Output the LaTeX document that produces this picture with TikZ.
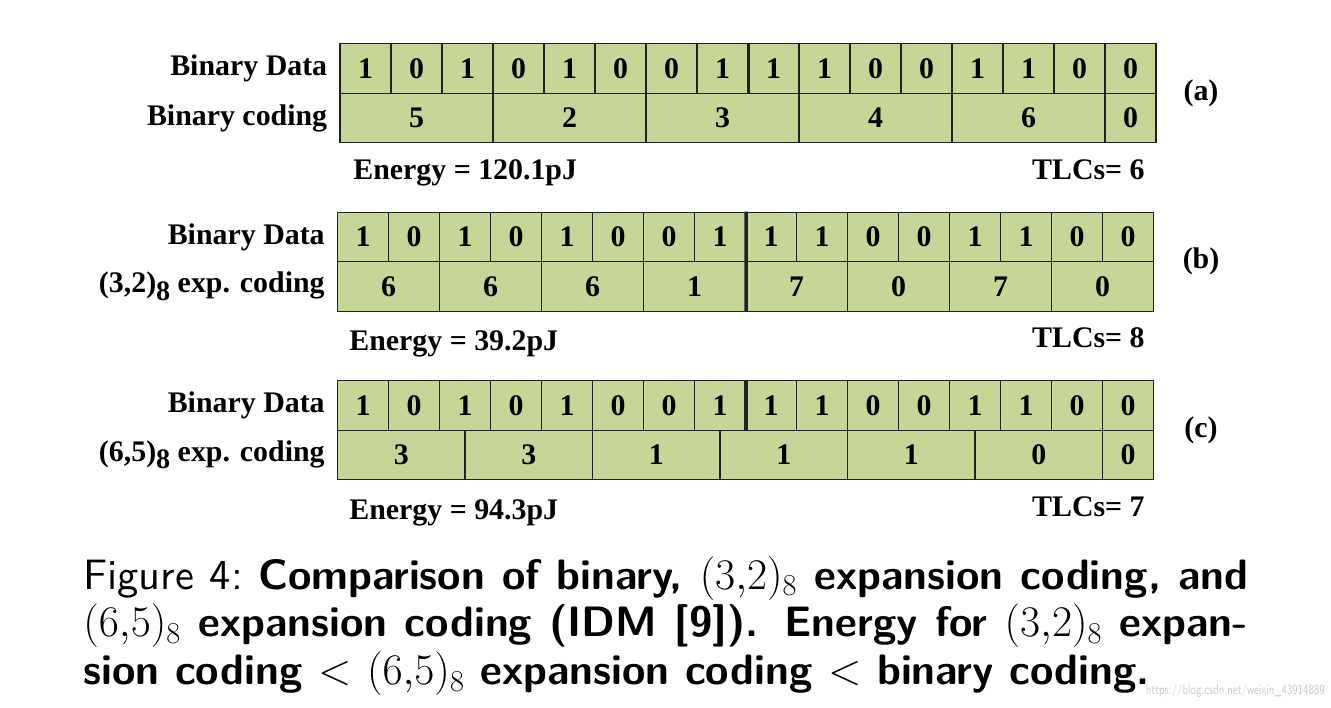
\documentclass[tikz,border=0pt]{standalone}
\usepackage{fontspec}
\newfontfamily\tnr{Liberation Serif}
\newfontfamily\capfont{lmsans10-regular}[Extension=.otf, BoldFont=lmsans10-bold]
\usetikzlibrary{positioning}
\definecolor{cellgreen}{HTML}{C6D697}
\definecolor{inkline}{HTML}{222222}
\definecolor{markgray}{HTML}{CCCCCC}
\newcommand{\figfont}{\tnr\bfseries\fontsize{17}{20}\selectfont}
\newcommand{\subeight}{\raisebox{-0.55ex}{\fontsize{16}{16}\selectfont 8}}

\begin{document}
\begin{tikzpicture}[
    font=\figfont,
    bit/.style={draw=inkline, line width=0.8pt, fill=cellgreen, minimum width=1.02cm, minimum height=0.99cm, inner sep=0pt},
    code/.style={bit},
    rowlabel/.style={anchor=east, inner sep=0pt},
    note/.style={inner sep=0pt},
    tag/.style={inner sep=0pt},
    divider/.style={draw=inkline, line width=2pt},
]
    \useasboundingbox (0,0) rectangle (26.62,14.14);

    % =====================================================================
    % (a) BINARY CODING
    % =====================================================================
    \node[rowlabel] (a_lab1) at (6.55, 12.77) {Binary Data};
    \node[rowlabel] (a_lab2) at (6.55, 11.78) {Binary coding};
    \foreach \b [count=\i] in {1,0,1,0,1,0,0,1,1,1,0,0,1,1,0,0}
        \node[bit] (abit\i) at ({6.8+(\i-0.5)*1.02}, 12.77) {\b};
    \foreach \v/\c/\w [count=\i] in {5/1.5/3, 2/4.5/3, 3/7.5/3, 4/10.5/3, 6/13.5/3, 0/15.5/1}
        \node[code, minimum width=\w*1.02cm] (acode\i) at ({6.8+\c*1.02}, 11.78) {\v};
    \draw[divider] (abit8.north east) -- (abit8.south east);
    \node[note, anchor=base west] (a_energy) at (7.06, 10.54) {Energy = 120.1pJ};
    \node[note, anchor=base east] (a_tlc) at (22.9, 10.54) {TLCs= 6};
    \node[tag] (a_tag) at (24.02, 12.28) {(a)};

    % =====================================================================
    % (b) (3,2)_8 EXPANSION CODING
    % =====================================================================
    \begin{scope}[yshift=-3.37cm, xshift=-0.05cm]
        \node[rowlabel] (b_lab1) at (6.55, 12.77) {Binary Data};
        \node[rowlabel] (b_lab2) at (6.55, 11.78) {(3,2)\subeight{} exp. coding};
        \foreach \b [count=\i] in {1,0,1,0,1,0,0,1,1,1,0,0,1,1,0,0}
            \node[bit] (bbit\i) at ({6.8+(\i-0.5)*1.02}, 12.77) {\b};
        \foreach \v/\c [count=\i] in {6/1, 6/3, 6/5, 1/7, 7/9, 0/11, 7/13, 0/15}
            \node[code, minimum width=2.04cm] (bcode\i) at ({6.8+\c*1.02}, 11.78) {\v};
        \draw[divider] (bbit8.north east) -- (bcode4.south east);
        \node[note, anchor=base west] (b_energy) at (7.03, 10.5) {Energy = 39.2pJ};
        \node[note, anchor=base east] (b_tlc) at (22.95, 10.56) {TLCs= 8};
        \node[tag] (b_tag) at (24.07, 12.28) {(b)};
    \end{scope}

    % =====================================================================
    % (c) (6,5)_8 EXPANSION CODING
    % =====================================================================
    \begin{scope}[yshift=-6.74cm, xshift=-0.05cm]
        \node[rowlabel] (c_lab1) at (6.55, 12.77) {Binary Data};
        \node[rowlabel] (c_lab2) at (6.55, 11.78) {(6,5)\subeight{} exp. coding};
        \foreach \b [count=\i] in {1,0,1,0,1,0,0,1,1,1,0,0,1,1,0,0}
            \node[bit] (cbit\i) at ({6.8+(\i-0.5)*1.02}, 12.77) {\b};
        \foreach \v/\c/\w [count=\i] in {3/1.25/2.5, 3/3.75/2.5, 1/6.25/2.5, 1/8.75/2.5, 1/11.25/2.5, 0/13.75/2.5, 0/15.5/1}
            \node[code, minimum width=\w*1.02cm] (ccode\i) at ({6.8+\c*1.02}, 11.78) {\v};
        \draw[divider] (cbit8.north east) -- (cbit8.south east);
        \node[note, anchor=base west] (c_energy) at (7.03, 10.5) {Energy = 94.3pJ};
        \node[note, anchor=base east] (c_tlc) at (22.95, 10.56) {TLCs= 7};
        \node[tag] (c_tag) at (24.07, 12.28) {(c)};
    \end{scope}

    % caption
    \node[anchor=base west, inner sep=0pt, text width=23.3cm, align=justify,
          font=\capfont\fontsize{24.2}{27.2}\selectfont] (caption) at (1.66, 2.36)
        {Figure 4:\ \textbf{Comparison of binary, $(3{,}2)_8$ expansion coding, and\linebreak
         $(6{,}5)_8$ expansion coding (IDM [9]). Energy for $(3{,}2)_8$ expan-\linebreak
         sion coding $<$ $(6{,}5)_8$ expansion coding $<$ binary coding.}};
    \node[anchor=base east, inner sep=0pt, text=markgray, font=\sffamily\fontsize{8}{9}\selectfont] (mark) at (26.5, 0.26)
        {\scalebox{0.72}[1]{https://blog.csdn.net/weixin\_43914889}};

\end{tikzpicture}
\end{document}
